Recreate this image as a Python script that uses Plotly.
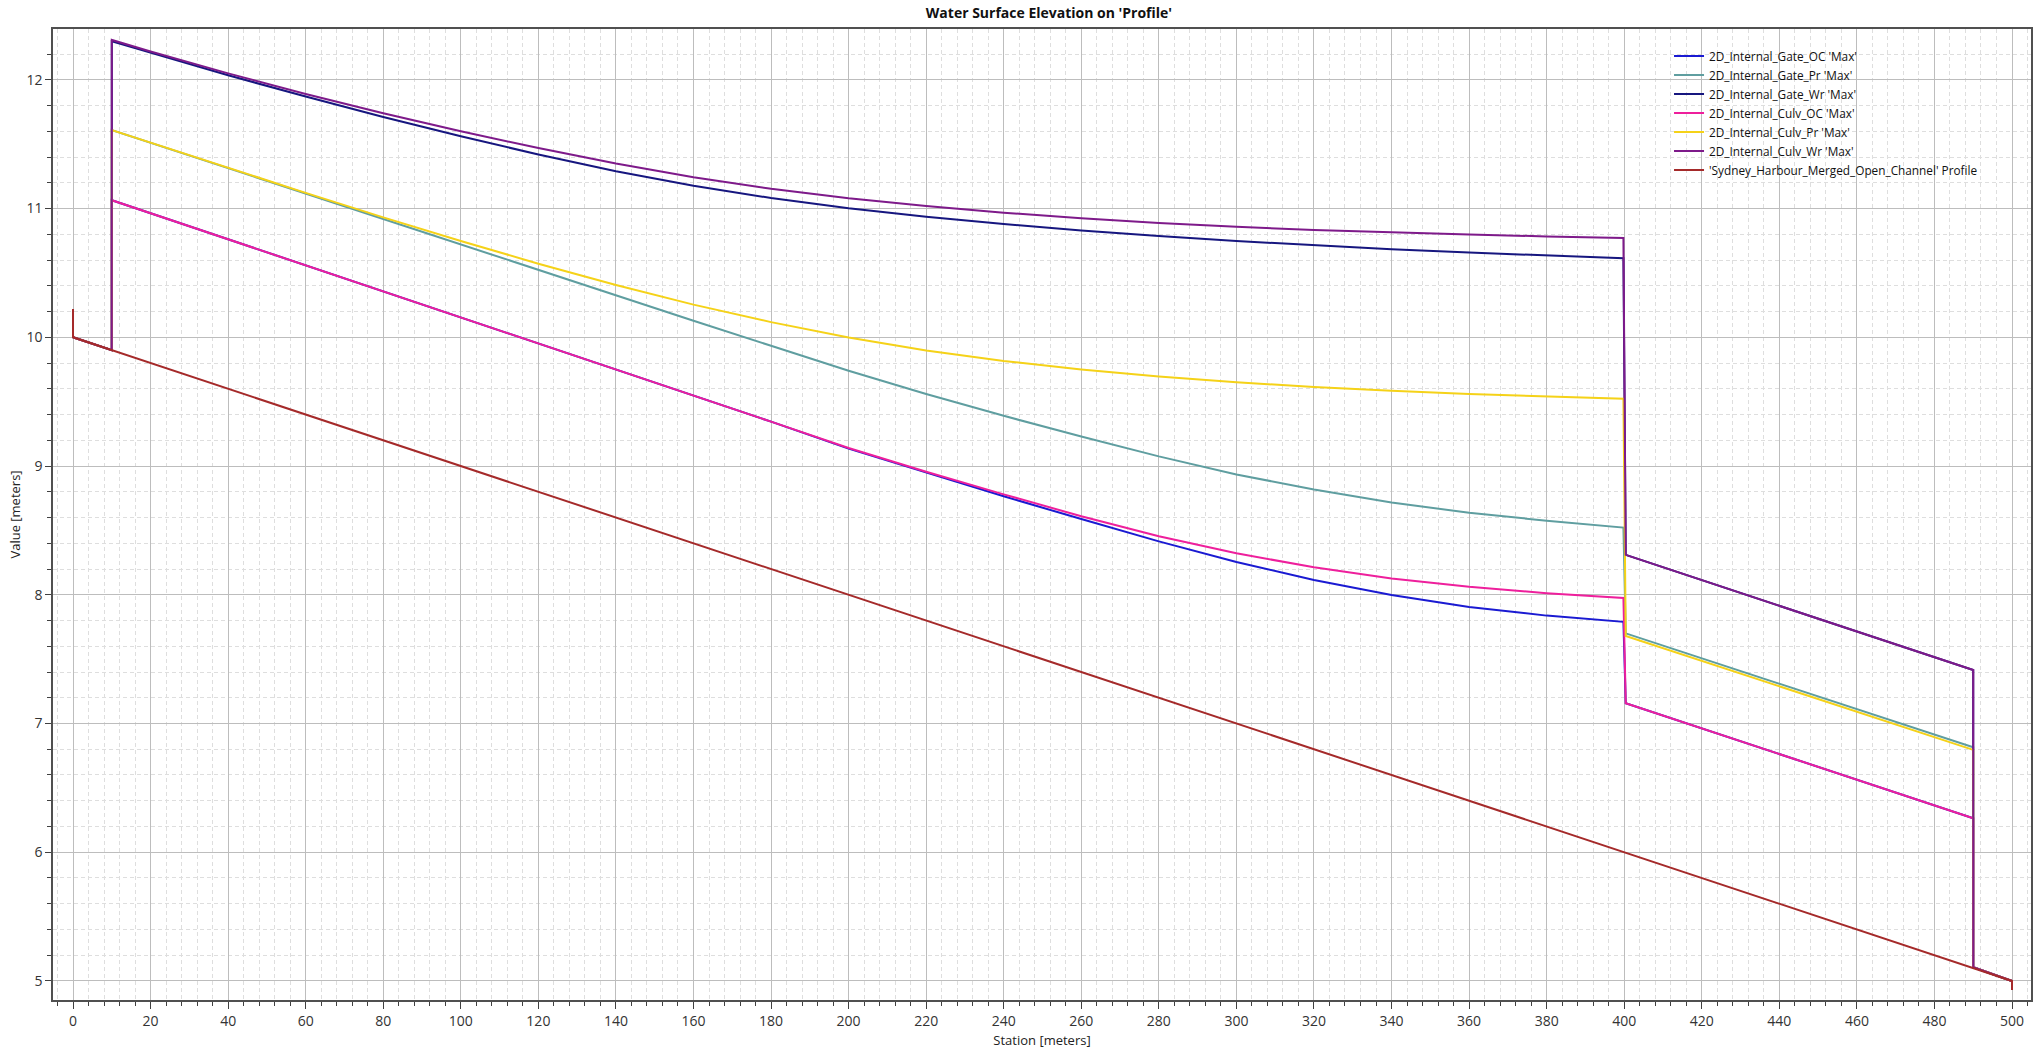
import plotly.graph_objects as go

# ---- data ----
stations = [0, 10, 10, 20, 40, 60, 80, 100, 120, 140, 160, 180, 200, 220, 240, 260,
            280, 300, 320, 340, 360, 380, 399.8, 400.4, 490, 490, 500]

gate_oc = [10.0, 9.9, 11.065, 10.964, 10.762, 10.56, 10.358, 10.156, 9.954, 9.752, 9.55, 9.345,
           9.135, 8.948, 8.765, 8.588, 8.415, 8.255, 8.115, 7.998, 7.905, 7.838, 7.79,
           7.158, 6.264, 5.106, 5.0]
gate_pr = [10.0, 9.9, 11.61, 11.511, 11.313, 11.115, 10.917, 10.719, 10.521, 10.325, 10.129, 9.934,
           9.74, 9.56, 9.39, 9.23, 9.075, 8.935, 8.817, 8.717, 8.637, 8.575, 8.522,
           7.70, 6.815, 5.106, 5.0]
gate_wr = [10.0, 9.9, 12.30, 12.21, 12.036, 11.87, 11.712, 11.562, 11.42, 11.29, 11.178, 11.082,
           11.002, 10.936, 10.88, 10.83, 10.786, 10.748, 10.714, 10.684, 10.658, 10.636, 10.615,
           8.31, 7.415, 5.106, 5.0]
culv_oc = [10.0, 9.9, 11.065, 10.964, 10.762, 10.56, 10.358, 10.156, 9.954, 9.752, 9.55, 9.345,
           9.14, 8.955, 8.78, 8.61, 8.455, 8.322, 8.213, 8.127, 8.062, 8.012, 7.975,
           7.158, 6.264, 5.106, 5.0]
culv_pr = [10.0, 9.9, 11.61, 11.512, 11.316, 11.122, 10.932, 10.748, 10.572, 10.406, 10.254, 10.118,
           9.998, 9.898, 9.816, 9.75, 9.695, 9.65, 9.614, 9.584, 9.56, 9.54, 9.522,
           7.68, 6.795, 5.106, 5.0]
culv_wr = [10.0, 9.9, 12.31, 12.22, 12.05, 11.89, 11.74, 11.60, 11.47, 11.35, 11.244, 11.154,
           11.08, 11.02, 10.968, 10.924, 10.888, 10.858, 10.834, 10.814, 10.798, 10.784, 10.772,
           8.31, 7.415, 5.106, 5.0]

profile_stations = [0, 0, 500, 500]
profile_values = [10.22, 10.0, 5.0, 4.93]

series_names = ["2D_Internal_Gate_OC 'Max'", "2D_Internal_Gate_Pr 'Max'",
                "2D_Internal_Gate_Wr 'Max'", "2D_Internal_Culv_OC 'Max'",
                "2D_Internal_Culv_Pr 'Max'", "2D_Internal_Culv_Wr 'Max'"]
profile_name = "'Sydney_Harbour_Merged_Open_Channel' Profile"

series_values = [gate_oc, gate_pr, gate_wr, culv_oc, culv_pr, culv_wr]
colors = ["#1a1ad2", "#5f9ea0", "#16167f", "#ee1f9c", "#f5d218", "#7e1a8a"]
profile_color = "#a52a2a"

fig = go.Figure()
for name, vals, col in zip(series_names, series_values, colors):
    fig.add_trace(go.Scatter(x=stations, y=vals, mode="lines", name=name,
                             line=dict(color=col, width=2)))
fig.add_trace(go.Scatter(x=profile_stations, y=profile_values, mode="lines",
                         name=profile_name, line=dict(color=profile_color, width=2)))

FONT = "Open Sans, Noto Sans, sans-serif"
axis_common = dict(
    showline=True, mirror=True, linecolor="#505050", linewidth=1.5,
    showgrid=True, gridcolor="#bdbdbd", gridwidth=1,
    zeroline=False, ticks="outside", tickcolor="#404040", tickwidth=1,
    tickfont=dict(family=FONT, size=14, color="#333333"),
)
minor_common = dict(showgrid=True, gridcolor="#dedede", griddash="4px,3px", gridwidth=1,
                    ticks="outside", ticklen=4, tickcolor="#404040")

fig.update_layout(
    width=2042, height=1053,
    paper_bgcolor="white", plot_bgcolor="white",
    margin=dict(l=53, r=11, t=29, b=53, autoexpand=False),
    font=dict(family=FONT, color="#222222"),
    title=dict(text="<b>Water Surface Elevation on 'Profile'</b>",
               x=0.5137, xanchor="center", y=1 - 13 / 1053, yanchor="middle",
               yref="container", font=dict(family=FONT, size=14, color="#111111")),
    showlegend=True,
    legend=dict(x=0.817, y=0.987, xanchor="left", yanchor="top",
                bgcolor="rgba(0,0,0,0)", borderwidth=0, itemwidth=30,
                font=dict(family=FONT, size=11.8, color="#111111"), tracegroupgap=0),
    xaxis=dict(range=[-5.16, 504.9], dtick=20, tick0=0, ticklen=7,
               title=dict(text="Station [meters]", standoff=7,
                          font=dict(family=FONT, size=13, color="#222222")),
               minor=dict(dtick=4, tick0=0, **minor_common),
               **axis_common),
    yaxis=dict(range=[4.852, 12.395], dtick=1, tick0=0, ticklen=6,
               title=dict(text="Value [meters]", standoff=3,
                          font=dict(family=FONT, size=13, color="#222222")),
               minor=dict(dtick=0.2, tick0=0, **minor_common),
               **axis_common),
)

fig.write_html("out.html", config={"displayModeBar": False},
               post_script="document.body.style.margin='0';document.body.style.overflow='hidden';")
